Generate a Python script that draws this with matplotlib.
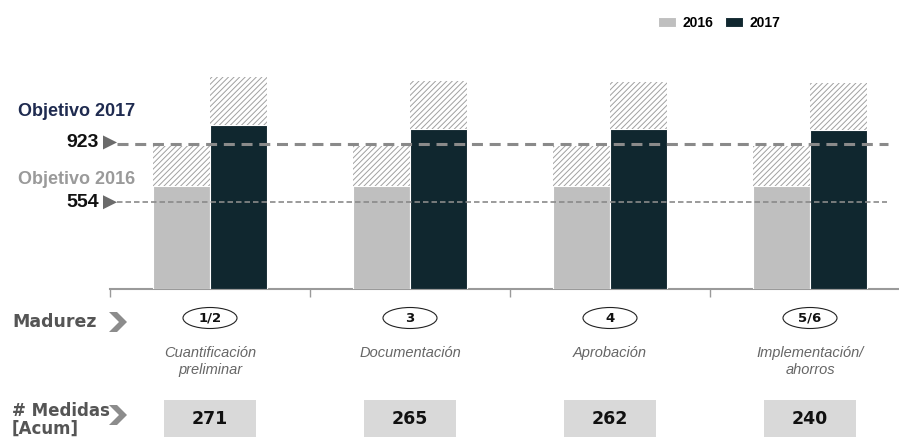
import matplotlib.pyplot as plt
from matplotlib.patches import Ellipse, Rectangle, Polygon

# datos
anios = ['2016', '2017']
base_2016 = [660, 660, 660, 660]
extra_2016 = [255, 255, 255, 255]
base_2017 = [1045, 1020, 1020, 1013]
extra_2017 = [311, 308, 302, 300]
objetivo_2016 = 554
objetivo_2017 = 923
madurez = ['1/2', '3', '4', '5/6']
etapas = ['Cuantificación\npreliminar', 'Documentación', 'Aprobación',
          'Implementación/\nahorros']
medidas = [271, 265, 262, 240]

c16 = '#bfbfbf'
c17 = '#10272f'
gris = '#555555'

W, H = 899, 442
fig = plt.figure(figsize=(W / 100, H / 100), dpi=100)

# ejes principales en pixeles: base en y=289, categorias de 200 px desde x=110
escala = 0.1566
ax = fig.add_axes([110 / W, (H - 289) / H, (W - 110) / W, 259 / H])
ax.set_xlim(0, (W - 110) / 200)
ax.set_ylim(0, 259 / escala)

x = [i + 0.5 for i in range(len(medidas))]
ancho = 0.285
x16 = [v - ancho / 2 for v in x]
x17 = [v + ancho / 2 for v in x]

plt.rcParams['hatch.linewidth'] = 0.7
b16 = ax.bar(x16, base_2016, ancho, color=c16, edgecolor='white', linewidth=0.8, zorder=3)
ax.bar(x16, extra_2016, ancho, bottom=base_2016, color='white', edgecolor='#a0a0a0',
       hatch='//////', linewidth=0, zorder=3)
b17 = ax.bar(x17, base_2017, ancho, color=c17, edgecolor='white', linewidth=0.8, zorder=3)
ax.bar(x17, extra_2017, ancho, bottom=base_2017, color='white', edgecolor='#a0a0a0',
       hatch='//////', linewidth=0, zorder=3)

# lineas de objetivo
ax.hlines(objetivo_2017, 0.035, 3.89, colors='#8a8a8a', linewidth=2.2,
          linestyles=(0, (3.6, 2.2)), zorder=4)
ax.hlines(objetivo_2016, 0.035, 3.885, colors='#8a8a8a', linewidth=1.2,
          linestyles=(0, (3.3, 1.8)), zorder=4)

for s in ['top', 'right', 'left']:
    ax.spines[s].set_visible(False)
ax.spines['bottom'].set_color('#9a9a9a')
ax.spines['bottom'].set_linewidth(1.5)
ax.spines['bottom'].set_zorder(2)
ax.set_xticks(range(len(medidas)))
ax.set_xticklabels([])
ax.tick_params(axis='x', length=6, width=1, color='#9a9a9a', direction='out')
ax.set_yticks([])
ax.patch.set_alpha(0)

# leyenda
fig.legend([b16, b17], anios, loc='center', bbox_to_anchor=(719 / W, 1 - 23 / H),
           ncol=2, frameon=False, handlelength=1.3, handleheight=0.8,
           handletextpad=0.5, columnspacing=0.8,
           prop={'family': 'Liberation Sans', 'weight': 'bold', 'size': 10})

# capa en pixeles para textos y formas
ov = fig.add_axes([0, 0, 1, 1], zorder=5)
ov.set_xlim(0, W)
ov.set_ylim(H, 0)
ov.axis('off')
ov.patch.set_alpha(0)


def y_px(v):
    return 289 - v * escala


def triangulo(xc, yc):
    ov.add_patch(Polygon([(xc - 7, yc - 7), (xc + 7, yc), (xc - 7, yc + 7)],
                         closed=True, color='#6b6b6b', lw=0))


def chevron(xc, yc):
    ov.add_patch(Polygon([(xc - 9, yc - 10), (xc - 1, yc - 10), (xc + 9, yc),
                          (xc - 1, yc + 10), (xc - 9, yc + 10), (xc + 1, yc)],
                         closed=True, color='#8c8c8c', lw=0))


ov.text(18, 112, 'Objetivo 2017', family='Liberation Sans', weight='bold',
        size=13, color='#1f2b50', va='center')
ov.text(99, y_px(objetivo_2017) - 2, str(objetivo_2017), family='Liberation Sans',
        weight='bold', size=14, color='#111111', va='center', ha='right')
triangulo(110, y_px(objetivo_2017) - 2)
ov.text(18, 179, 'Objetivo 2016', family='Liberation Sans', weight='bold',
        size=13, color='#9a9a9a', va='center')
ov.text(99, y_px(objetivo_2016), str(objetivo_2016), family='Liberation Sans',
        weight='bold', size=14, color='#111111', va='center', ha='right')
triangulo(110, y_px(objetivo_2016))

ov.text(12, 322, 'Madurez', weight='bold', size=12.5, color=gris, va='center')
chevron(118, 322)
ov.text(12, 420, '# Medidas\n[Acum]', weight='bold', size=12, color=gris,
        va='center', linespacing=1.0)
chevron(118, 415)

for i, cx in enumerate(v * 200 + 110 for v in x):
    ov.add_patch(Ellipse((cx, 318), 54, 21, facecolor='white', edgecolor='#222222', lw=0.8))
    ov.text(cx, 318, madurez[i], ha='center', va='center', weight='bold',
            size=9.5, color='#111111')
    ov.text(cx, 346, etapas[i], ha='center', va='top', style='italic',
            family='Liberation Sans', size=10.5, color='#666666', linespacing=1.3)
    ov.add_patch(Rectangle((cx - 46, 400), 92, 37, color='#d9d9d9', lw=0))
    ov.text(cx, 419, str(medidas[i]), ha='center', va='center', weight='bold',
            size=12.5, color='#111111')

fig.savefig('out.png', dpi=100)
